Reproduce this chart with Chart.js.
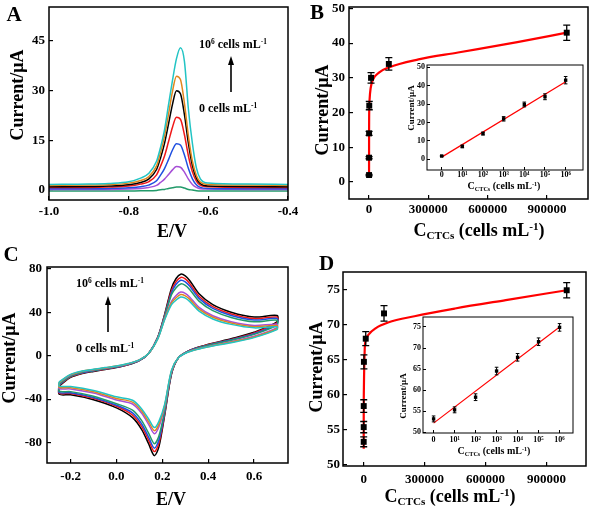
<!DOCTYPE html>
<html><head><meta charset="utf-8">
<script src="https://cdn.jsdelivr.net/npm/chart.js"></script>
<style>
html,body{margin:0;padding:0;width:591px;height:509px;overflow:hidden;background:#fff;}
#wrap{position:relative;width:591px;height:509px;overflow:hidden;font-family:"Liberation Serif","Times New Roman",serif;font-weight:bold;color:#000;}
canvas{position:absolute;}
.t{position:absolute;transform:translate(-50%,-50%);white-space:nowrap;line-height:1;}
.r{transform:translate(-50%,-50%) rotate(-90deg);}
.l{position:absolute;transform:translate(0,-50%);white-space:nowrap;line-height:1;font-size:12px;}
sub{font-size:0.62em;vertical-align:-0.28em;line-height:0;}
sup{font-size:0.62em;vertical-align:0.5em;line-height:0;}
svg{position:absolute;left:0;top:0;}
</style></head>
<body><div id="wrap">
<div class="t" style="left:14px;top:13.5px;font-size:21px">A</div>
<div class="t" style="left:317px;top:11.7px;font-size:21px">B</div>
<div class="t" style="left:11px;top:253.5px;font-size:21px">C</div>
<div class="t" style="left:326.5px;top:263px;font-size:21px">D</div>

<div class="t r" style="left:17px;top:95px;font-size:18px">Current/μA</div>
<div class="t" style="left:172px;top:231px;font-size:18px">E/V</div>
<div class="t r" style="left:322px;top:110px;font-size:18px">Current/μA</div>
<div class="t" style="left:479px;top:230px;font-size:18px">C<sub>CTCs</sub> (cells mL<sup>-1</sup>)</div>
<div class="t r" style="left:9px;top:358px;font-size:18px">Current/μA</div>
<div class="t" style="left:171px;top:499px;font-size:18px">E/V</div>
<div class="t r" style="left:316px;top:367px;font-size:18px">Current/μA</div>
<div class="t" style="left:450px;top:496px;font-size:18px">C<sub>CTCs</sub> (cells mL<sup>-1</sup>)</div>

<div class="l" style="left:199px;top:44px">10<sup>6</sup> cells mL<sup>-1</sup></div>
<div class="l" style="left:199px;top:108px">0 cells mL<sup>-1</sup></div>
<div class="l" style="left:76px;top:283px">10<sup>6</sup> cells mL<sup>-1</sup></div>
<div class="l" style="left:76px;top:348px">0 cells mL<sup>-1</sup></div>
</div>
<script>
// ---------------- DATA ----------------
// Panel A (DPV)
const aPotential = [-1.0,-0.9,-0.85,-0.8,-0.77,-0.75,-0.73,-0.72,-0.71,-0.70,-0.69,-0.68,-0.67,-0.66,-0.65,-0.64,-0.63,-0.62,-0.6,-0.5,-0.4];
const aCurrentCyan   = [1.7,1.8,2.0,2.5,3.6,5.0,8.7,12.9,18.2,25.7,33.1,39.7,43.0,38.9,24.4,14.1,6.7,3.4,2.1,1.8,1.7];
const aCurrentOrange = [1.4,1.5,1.6,2.1,2.9,4.0,7.3,11.3,16.3,22.9,29.8,34.4,33.4,26.2,16.3,8.7,4.4,2.4,1.7,1.5,1.4];
const aCurrentBlack  = [1.0,1.1,1.2,1.6,2.3,3.3,6.2,9.7,14.1,19.9,25.9,30.0,29.1,22.8,14.1,7.4,3.6,1.9,1.2,1.1,1.0];
const aCurrentRed    = [0.8,0.8,0.9,1.2,1.8,2.5,4.6,7.2,10.3,14.6,19.0,22.0,21.4,16.7,10.3,5.5,2.7,1.4,1.0,0.8,0.8];
const aCurrentBlue   = [0.4,0.4,0.5,0.7,1.0,1.5,2.8,4.5,6.5,9.2,12.1,14.0,13.6,10.6,6.5,3.4,1.6,0.8,0.5,0.4,0.4];
const aCurrentPurple = [0.2,0.2,0.2,0.3,0.5,0.8,1.4,2.3,3.3,4.7,6.1,7.1,6.9,5.4,3.3,1.7,0.8,0.4,0.3,0.2,0.2];
const aCurrentGreen  = [-0.3,-0.3,-0.3,-0.3,-0.2,-0.2,-0.1,0.1,0.2,0.5,0.7,0.9,0.9,0.6,0.2,0.0,-0.2,-0.3,-0.3,-0.3,-0.3];
const aXTicks = [-1.0,-0.8,-0.6,-0.4], aXLabels = ['-1.0','-0.8','-0.6','-0.4'];
const aYTicks = [0,15,30,45], aYLabels = ['0','15','30','45'];

// Panel B (DPV calibration)
const bConc = [0,10,100,1000,10000,100000,1000000];
const bCurrent = [2,7,14,22,30,34,43];
const bError = [0.2,0.3,0.6,1.2,1.5,1.8,2.2];
const bFitConc = [1,10,100,1000,3000,8000,20000,50000,100000,250000,450000,750000,1000000];
const bFitCurrent = [1.5,8,14.5,21,24,27,29.5,31.5,33,35.3,37.3,40.3,43];
const bXTicks = [0,300000,600000,900000], bXLabels = ['0','300000','600000','900000'];
const bYTicks = [0,10,20,30,40,50], bYLabels = ['0','10','20','30','40','50'];
// Inset B
const logPos = [0,1,2,3,4,5,6];
const logLabels = ['0','10¹','10²','10³','10⁴','10⁵','10⁶'];
const biCurrent = [1.8,7,14,22,29.8,34,43];
const biError = [0.3,0.7,0.8,1.2,1.3,1.6,2.0];
const biFitPos = [0,6], biFitCurrent = [1.2,42.2];
const biYTicks = [0,10,20,30,40,50], biYLabels = ['0','10','20','30','40','50'];

// Panel C (CV)
const cvUpperE = [-0.25,-0.2,-0.15,-0.1,-0.05,0,0.05,0.1,0.14,0.18,0.21,0.24,0.26,0.28,0.3,0.32,0.36,0.42,0.5,0.6,0.7];
const cvLowerE = [0.7,0.6,0.5,0.42,0.36,0.31,0.27,0.24,0.21,0.185,0.165,0.14,0.11,0.07,0.0,-0.1,-0.2,-0.25];
const cvUpperBlack  = [-28,-20,-16.5,-14.5,-12.8,-11,-8.5,-4.5,2,17,38,62,71,75,73.5,69,57,47,40,35.5,37];
const cvUpperRed    = [-27.3,-19.5,-16.1,-14.1,-12.5,-10.7,-8.3,-4.4,2,16.8,37.3,60,68.2,72,70.6,66.2,54.7,45.1,38.4,34.1,35.5];
const cvUpperBlue   = [-26.7,-19.1,-15.8,-13.8,-12.2,-10.5,-8.1,-4.3,2,16.6,36.6,58,65.7,69.4,68,63.8,52.7,43.5,37,32.8,34.2];
const cvUpperGreen  = [-26.2,-18.7,-15.4,-13.6,-12,-10.3,-7.9,-4.2,2,16.4,35.8,56,62.5,66,64.7,60.7,50.2,41.4,35.2,31.2,32.6];
const cvUpperPurple = [-24.9,-17.8,-14.7,-12.9,-11.4,-9.8,-7.6,-4,2,15.8,34.2,50,55.4,58.5,57.3,53.8,44.5,36.7,31.2,27.7,28.9];
const cvUpperOrange = [-24.5,-17.5,-14.4,-12.7,-11.2,-9.6,-7.4,-3.9,2,15.6,33.6,48.5,53.3,56.3,55.1,51.8,42.8,35.3,30,26.6,27.8];
const cvUpperCyan   = [-24.1,-17.2,-14.2,-12.5,-11,-9.5,-7.3,-3.9,2,15.4,33,47,51.1,54,52.9,49.7,41,33.8,28.8,25.6,26.6];
const cvLowerBlack  = [31,21.5,15.5,11.5,8,4,-2,-17,-55,-84,-92,-81,-68,-57,-48,-40.5,-36,-35.5];
const cvLowerRed    = [30.1,20.9,15,11.2,7.8,3.9,-2,-16.5,-54,-80.6,-88.3,-77.8,-65.3,-54.7,-46.6,-39.3,-34.9,-34.4];
const cvLowerBlue   = [29.1,20.2,14.6,10.8,7.5,3.8,-2,-16,-52.5,-77.7,-85.1,-74.9,-62.9,-52.7,-45.6,-38.5,-34.2,-33.7];
const cvLowerGreen  = [28.2,19.6,14.1,10.5,7.3,3.6,-2,-15.5,-51,-73.9,-81,-71.3,-59.8,-50.2,-44.2,-37.3,-33.1,-32.7];
const cvLowerPurple = [25.7,17.8,12.9,9.5,6.6,3.3,-2,-14.5,-47,-65.5,-71.8,-63.2,-53,-44.5,-40.8,-34.4,-30.6,-30.2];
const cvLowerOrange = [24.8,17.2,12.4,9.2,6.4,3.2,-2,-14,-46,-63,-69,-60.8,-51,-42.8,-39.4,-33.2,-29.5,-29.1];
const cvLowerCyan   = [23.9,16.6,11.9,8.9,6.2,3.1,-2,-13.5,-45,-60.5,-66.2,-58.3,-49,-41,-37.9,-32,-28.4,-28];
const cXTicks = [-0.2,0.0,0.2,0.4,0.6], cXLabels = ['-0.2','0.0','0.2','0.4','0.6'];
const cYTicks = [-80,-40,0,40,80], cYLabels = ['-80','-40','0','40','80'];

// Panel D (CV calibration)
const dConc = [0,10,100,1000,10000,100000,1000000];
const dCurrent = [53.3,55.4,58.4,64.7,68.0,71.6,74.9];
const dError = [0.7,0.8,0.9,1.0,1.0,1.1,1.1];
const dFitConc = [1,10,100,1000,5000,10000,25000,60000,120000,250000,450000,700000,1000000];
const dFitCurrent = [52.3,54.5,57.5,61,66.5,67.8,68.6,69.5,70.3,71.2,72.3,73.5,74.9];
const dXTicks = [0,300000,600000,900000], dXLabels = ['0','300000','600000','900000'];
const dYTicks = [50,55,60,65,70,75], dYLabels = ['50','55','60','65','70','75'];
// Inset D
const diCurrent = [53.2,55.35,58.35,64.55,67.8,71.5,74.9];
const diError = [0.7,0.7,0.8,0.9,0.9,0.9,0.9];
const diFitPos = [0,6], diFitCurrent = [52.2,75.0];
const diYTicks = [50,55,60,65,70,75], diYLabels = ['50','55','60','65','70','75'];

// colours
const COL = {cyan:'#22c4c4', orange:'#e0861c', black:'#000000', red:'#f01818', blue:'#1f4fe0', purple:'#a64fd6', green:'#229a6a'};

// ---------------- CHARTS ----------------
const wrap = document.getElementById('wrap');
const FONT = "'Liberation Serif','Times New Roman',serif";
const pts = (xs, ys) => xs.map((x,i)=>({x, y: ys[i]}));

const framePlugin = {
  id:'frame',
  beforeDraw(chart, args, opts){
    if (opts.fill){ const a=chart.chartArea, c=chart.ctx; c.save(); c.fillStyle='#fff'; c.fillRect(a.left,a.top,a.right-a.left,a.bottom-a.top); c.restore(); }
  },
  afterDraw(chart, args, opts){
    const a=chart.chartArea, c=chart.ctx; c.save(); c.strokeStyle='#000'; c.lineWidth=opts.width||1.5;
    c.strokeRect(a.left,a.top,a.right-a.left,a.bottom-a.top); c.restore();
  }
};
const errPlugin = {
  id:'errbars',
  afterDatasetsDraw(chart){
    const c=chart.ctx, xs=chart.scales.x, ys=chart.scales.y;
    chart.data.datasets.forEach(ds=>{
      if(!ds.errors) return;
      c.save(); c.strokeStyle='#000'; c.lineWidth=ds.errWidth||1.2;
      ds.data.forEach((p,i)=>{
        const e=ds.errors[i]; if(!e) return;
        const px=xs.getPixelForValue(p.x), y1=ys.getPixelForValue(p.y+e), y2=ys.getPixelForValue(p.y-e), w=ds.capHalf||3;
        c.beginPath(); c.moveTo(px,y1); c.lineTo(px,y2);
        c.moveTo(px-w,y1); c.lineTo(px+w,y1); c.moveTo(px-w,y2); c.lineTo(px+w,y2); c.stroke();
      });
      c.restore();
    });
  }
};

function makeChart(p){
  const left=p.L-p.yw, top=p.T-p.pt, w=p.R-p.L+p.yw+p.pr, h=p.B-p.T+p.pt+p.xh;
  const cv=document.createElement('canvas');
  cv.width=w; cv.height=h;
  Object.assign(cv.style,{left:left+'px',top:top+'px',width:w+'px',height:h+'px'});
  wrap.insertBefore(cv, wrap.firstChild);
  if (p.onTop) wrap.appendChild(cv);
  const tickFont={family:FONT,size:p.fs,weight:'bold'};
  const axis=(min,max,vals,labels,pad,fitFn)=>({type:'linear',min,max,
    afterBuildTicks:s=>{s.ticks=vals.map(v=>({value:v}));},
    afterFit:fitFn,
    grid:{drawOnChartArea:false,drawTicks:true,tickLength:-p.tl,color:'#000',lineWidth:p.tw},
    border:{display:false},
    ticks:{autoSkip:false,maxRotation:0,minRotation:0,padding:pad,color:'#000',font:tickFont,callback:(v,i)=>labels[i]}});
  return new Chart(cv,{type:'scatter',data:{datasets:p.datasets},
    options:{responsive:false,animation:false,devicePixelRatio:1,
      layout:{padding:{left:0,top:p.pt,right:p.pr,bottom:0}},
      plugins:{legend:{display:false},tooltip:{enabled:false},frame:{width:p.fw,fill:p.fill}},
      scales:{x:axis(p.xMin,p.xMax,p.xTicks,p.xLabels,p.xPad,s=>{s.height=p.xh;}),
              y:axis(p.yMin,p.yMax,p.yTicks,p.yLabels,p.yPad,s=>{s.width=p.yw;})}},
    plugins:[framePlugin,errPlugin]});
}
const MAIN = {yw:45, pt:20, pr:30, xh:30, fs:13, tl:4, tw:1.2, fw:1.5};
const INSET = {yw:25, pt:12, pr:14, xh:16, fs:8, tl:3, tw:1, fw:1, fill:true, onTop:true};
const lineDs = (xs, ys, color, width, mode) => ({data:pts(xs,ys), showLine:true, borderColor:color, borderWidth:width, pointRadius:0, fill:false, cubicInterpolationMode:mode||'monotone'});
const markDs = (xs, ys, errs, r, cap, ew) => ({data:pts(xs,ys), showLine:false, pointStyle:'rect', pointRadius:r, backgroundColor:'#000', borderWidth:0, errors:errs, capHalf:cap, errWidth:ew});

// A
makeChart(Object.assign({}, MAIN, {L:49,T:7,R:288,B:200, xMin:-1.0,xMax:-0.4, yMin:-3.0,yMax:55.3,
  xTicks:aXTicks,xLabels:aXLabels,yTicks:aYTicks,yLabels:aYLabels, xPad:8, yPad:8,
  datasets:[
    lineDs(aPotential,aCurrentCyan,COL.cyan,1.5),
    lineDs(aPotential,aCurrentOrange,COL.orange,1.5),
    lineDs(aPotential,aCurrentBlack,COL.black,1.5),
    lineDs(aPotential,aCurrentRed,COL.red,1.5),
    lineDs(aPotential,aCurrentBlue,COL.blue,1.5),
    lineDs(aPotential,aCurrentPurple,COL.purple,1.5),
    lineDs(aPotential,aCurrentGreen,COL.green,1.5)
  ]}));

// B
makeChart(Object.assign({}, MAIN, {L:349,T:7,R:588,B:199, xMin:-101500,xMax:1107600, yMin:-4.9,yMax:50.4,
  xTicks:bXTicks,xLabels:bXLabels,yTicks:bYTicks,yLabels:bYLabels, xPad:7, yPad:8,
  datasets:[ markDs(bConc,bCurrent,bError,4.2,3.5,1.3), lineDs(bFitConc,bFitCurrent,'#ff0000',2.2) ]}));

// C
const cvLoop = (up, lo) => pts(cvUpperE, up).concat(pts(cvLowerE, lo)).concat([{x:cvUpperE[0], y:up[0]}]);
const cvDs = (up, lo, color) => ({data:cvLoop(up,lo), showLine:true, borderColor:color, borderWidth:1.5, pointRadius:0, fill:false, tension:0.3});
makeChart(Object.assign({}, MAIN, {L:47,T:267,R:288,B:463, xMin:-0.303,xMax:0.748, yMin:-98.8,yMax:81.6,
  xTicks:cXTicks,xLabels:cXLabels,yTicks:cYTicks,yLabels:cYLabels, xPad:10, yPad:9,
  datasets:[
    cvDs(cvUpperCyan,cvLowerCyan,COL.cyan),
    cvDs(cvUpperOrange,cvLowerOrange,COL.orange),
    cvDs(cvUpperPurple,cvLowerPurple,COL.purple),
    cvDs(cvUpperGreen,cvLowerGreen,COL.green),
    cvDs(cvUpperBlue,cvLowerBlue,COL.blue),
    cvDs(cvUpperRed,cvLowerRed,COL.red),
    cvDs(cvUpperBlack,cvLowerBlack,COL.black)
  ]}));

// D
makeChart(Object.assign({}, MAIN, {L:343,T:272,R:586,B:466, xMin:-102000,xMax:1095000, yMin:49.86,yMax:77.5,
  xTicks:dXTicks,xLabels:dXLabels,yTicks:dYTicks,yLabels:dYLabels, xPad:10, yPad:7,
  datasets:[ markDs(dConc,dCurrent,dError,4.2,3.5,1.3), lineDs(dFitConc,dFitCurrent,'#ff0000',2.2) ]}));

// Inset B
makeChart(Object.assign({}, INSET, {L:427,T:65,R:583,B:170, xMin:-0.71,xMax:6.84, yMin:-5.8,yMax:51.25,
  xTicks:logPos,xLabels:logLabels,yTicks:biYTicks,yLabels:biYLabels, xPad:3, yPad:5,
  datasets:[ markDs(logPos,biCurrent,biError,2.4,1.8,1), lineDs(biFitPos,biFitCurrent,'#ff0000',1.2) ]}));

// Inset D
makeChart(Object.assign({}, INSET, {L:423,T:317,R:573,B:433, xMin:-0.505,xMax:6.64, yMin:49.86,yMax:77.36,
  xTicks:logPos,xLabels:logLabels,yTicks:diYTicks,yLabels:diYLabels, xPad:5, yPad:5,
  datasets:[ markDs(logPos,diCurrent,diError,2.4,1.8,1), lineDs(diFitPos,diFitCurrent,'#ff0000',1.2) ]}));

// inset titles (on top of inset canvases)
const addText = (html, style, cls) => { const d=document.createElement('div'); d.className=cls; d.innerHTML=html; d.setAttribute('style',style); wrap.appendChild(d); };
addText('Current/μA','left:410.5px;top:108px;font-size:9px','t r');
addText('C<sub>CTCs</sub> (cells mL<sup>-1</sup>)','left:504px;top:186px;font-size:10px','t');
addText('Current/μA','left:402.5px;top:396px;font-size:9px','t r');
addText('C<sub>CTCs</sub> (cells mL<sup>-1</sup>)','left:494px;top:451px;font-size:10px','t');

// arrows
const svgNS='http://www.w3.org/2000/svg';
const svg=document.createElementNS(svgNS,'svg'); svg.setAttribute('width','591'); svg.setAttribute('height','509');
svg.innerHTML='<line x1="231" y1="92" x2="231" y2="62" stroke="#000" stroke-width="1.6"/><polygon points="231,56 228,65 234,65" fill="#000"/>'+
 '<line x1="108" y1="332" x2="108" y2="302" stroke="#000" stroke-width="1.6"/><polygon points="108,296 105,305 111,305" fill="#000"/>';
wrap.appendChild(svg);
</script>
</body></html>
